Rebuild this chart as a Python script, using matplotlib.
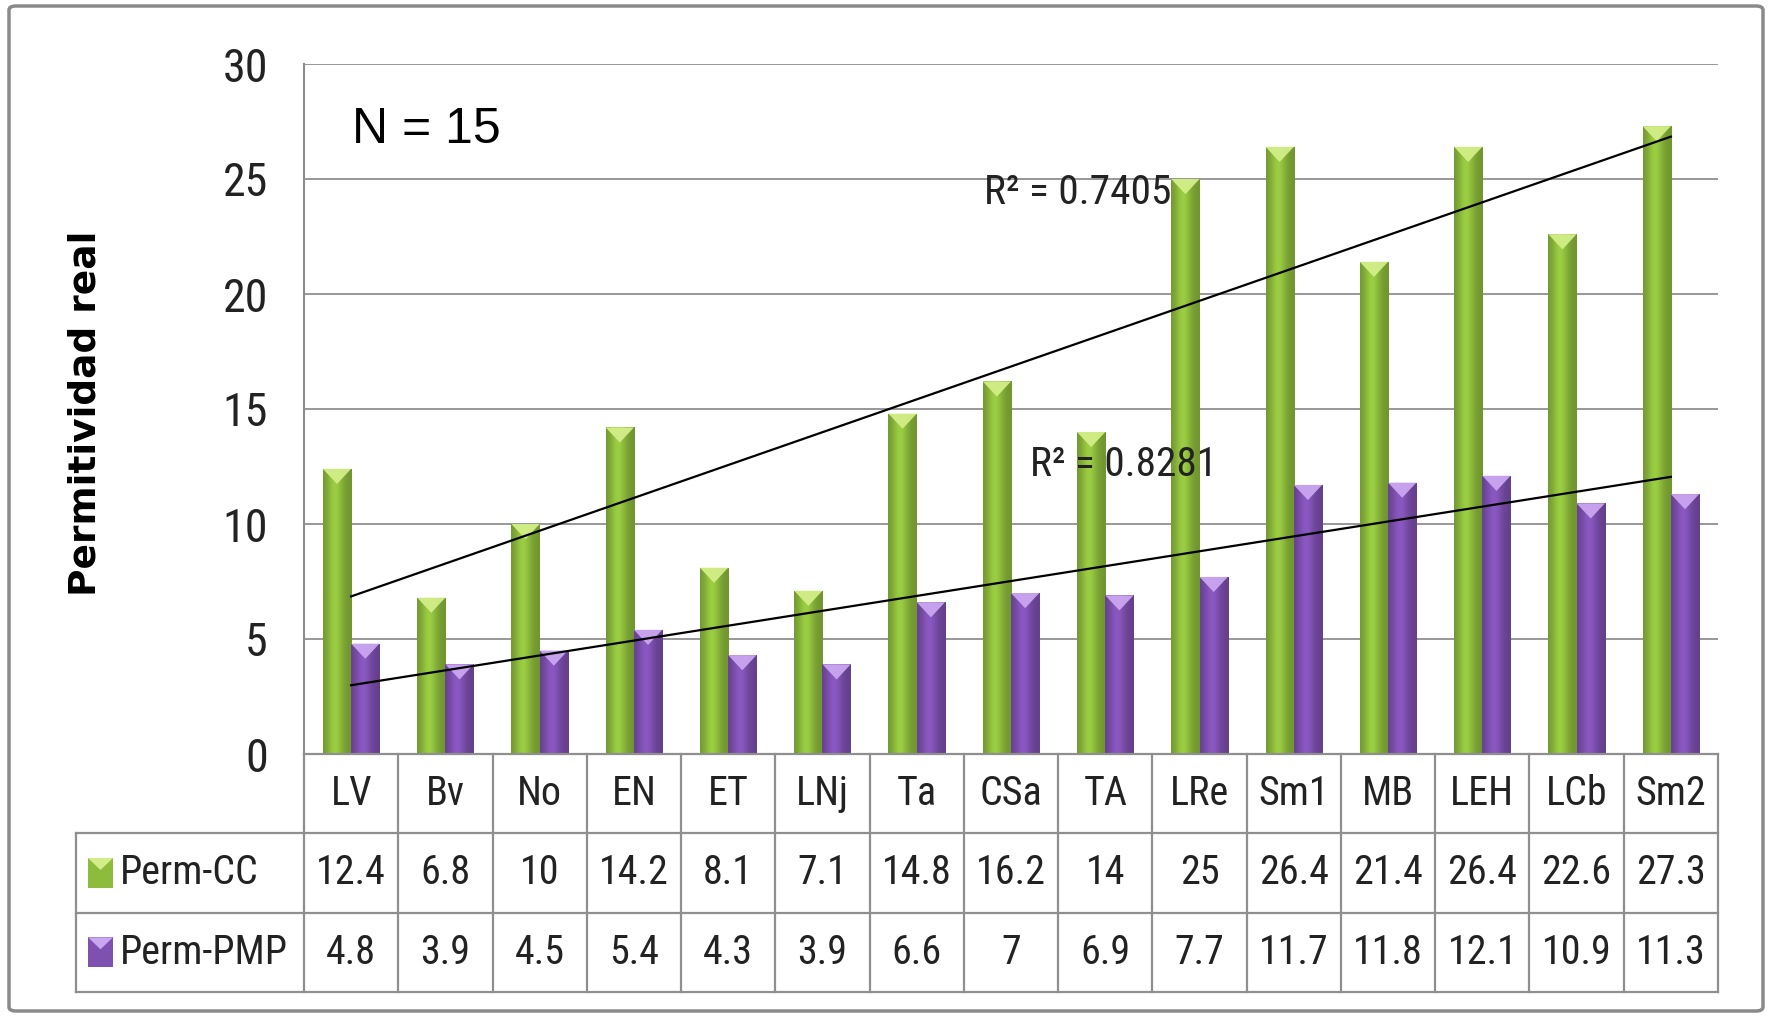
import numpy as np
import matplotlib.pyplot as plt
from matplotlib import font_manager
from matplotlib.font_manager import FontProperties
from matplotlib.patches import Polygon, Rectangle, FancyBboxPatch

categories = ["LV", "Bv", "No", "EN", "ET", "LNj", "Ta", "CSa", "TA", "LRe",
              "Sm1", "MB", "LEH", "LCb", "Sm2"]
perm_cc = [12.4, 6.8, 10, 14.2, 8.1, 7.1, 14.8, 16.2, 14, 25, 26.4, 21.4, 26.4, 22.6, 27.3]
perm_pmp = [4.8, 3.9, 4.5, 5.4, 4.3, 3.9, 6.6, 7, 6.9, 7.7, 11.7, 11.8, 12.1, 10.9, 11.3]
series_names = ["Perm-CC", "Perm-PMP"]
r2_labels = ["R² = 0.7405", "R² = 0.8281"]
y_ticks = [0, 5, 10, 15, 20, 25, 30]


def pick_narrow():
    # prefer a narrow / condensed face, fall back to plain Liberation Sans
    prefs = ["liberationsansnarrow-regular", "robotocondensed-regular",
             "opensans_condensed-regular", "opensanscondensed-regular"]
    files = [f.fname for f in font_manager.fontManager.ttflist]
    for p in prefs:
        for fn in files:
            if p in fn.lower().replace(" ", "").replace("-", "-"):
                return FontProperties(fname=fn)
    for fn in files:
        low = fn.lower()
        if ("narrow" in low or "condensed" in low) and "bold" not in low \
                and "italic" not in low and "light" not in low and "dejavu" not in low:
            return FontProperties(fname=fn)
    return FontProperties(family="Liberation Sans")


NARROW = pick_narrow()

W, H = 1768, 1016
fig = plt.figure(figsize=(W / 100, H / 100), dpi=100)
fig.patch.set_facecolor("white")
renderer = fig.canvas.get_renderer()


def size_for(text, target_px, cap):
    # font size that makes `text` about target_px wide, no larger than cap
    t = fig.text(0, 0, text, fontproperties=NARROW, fontsize=10)
    w = t.get_window_extent(renderer).width
    t.remove()
    return min(cap, 10 * target_px / w)


def fx(px):
    return px / W


def fy(py):
    return 1 - py / H


fs_table = size_for("Perm-PMP", 168, 31)
fs_r2 = size_for(r2_labels[0], 185, 31)
fs_tick = size_for("30", 48, 33)

# outer chart frame
fig.patches.append(FancyBboxPatch((fx(9), fy(1011)), fx(1763) - fx(9), fy(6) - fy(1011),
                                  boxstyle="round,pad=0,rounding_size=0.004",
                                  transform=fig.transFigure, fill=False,
                                  edgecolor="#8a8a8a", linewidth=2.5))

PL, PR, PT, PB = 304, 1718, 64, 754
ax = fig.add_axes([fx(PL), fy(PB), fx(PR) - fx(PL), fy(PT) - fy(PB)])
n = len(categories)
x = np.arange(n)
ax.set_xlim(-0.5, n - 0.5)
ax.set_ylim(0, 30)
ax.set_yticks(y_ticks)
ax.set_xticks([])
ax.tick_params(axis="y", length=0, pad=26)
for lab in ax.get_yticklabels():
    lab.set_fontproperties(NARROW)
    lab.set_fontsize(fs_tick)
    lab.set_color("#222222")
ax.yaxis.grid(True, color="#868686", linewidth=1.2)
ax.set_axisbelow(True)
for s in ["top", "right", "bottom"]:
    ax.spines[s].set_visible(False)
ax.spines["left"].set_color("#8c8c8c")
ax.spines["left"].set_linewidth(1.5)

bw = 0.3
styles = [
    {"base": np.array([141, 187, 60]) / 255, "tip": "#d3ee88"},
    {"base": np.array([126, 80, 176]) / 255, "tip": "#cba6f0"},
]
t = np.linspace(0, 1, 64)
profile = 0.80 + 0.30 * np.exp(-((t - 0.42) / 0.28) ** 2)
tri_h = 0.66


def gradient_img(base):
    img = np.clip(profile[:, None] * base[None, :], 0, 1)
    return img[None, :, :]


for k, (vals, offs) in enumerate([(perm_cc, -bw / 2), (perm_pmp, bw / 2)]):
    st = styles[k]
    bars = ax.bar(x + offs, vals, width=bw, color=st["base"], zorder=2, linewidth=0)
    img = gradient_img(st["base"])
    for b in bars:
        x0, w, h = b.get_x(), b.get_width(), b.get_height()
        im = ax.imshow(img, extent=(x0, x0 + w, 0, h), aspect="auto", zorder=2.1,
                       interpolation="bilinear")
        im.set_clip_path(b)
        ax.add_patch(Polygon([(x0, h), (x0 + w, h), (x0 + w / 2, h - tri_h)],
                             closed=True, facecolor=st["tip"], edgecolor="none",
                             zorder=2.2, alpha=0.95))
ax.set_xlim(-0.5, n - 0.5)
ax.set_ylim(0, 30)

# linear trendlines
for vals in (perm_cc, perm_pmp):
    c = np.polyfit(x, vals, 1)
    ax.plot([x[0], x[-1]], np.polyval(c, [x[0], x[-1]]), color="black", linewidth=1.6, zorder=3)

for lbl, (lx, ly) in zip(r2_labels, [(984, 192), (1030, 465)]):
    ax.text((lx - PL) / (PR - PL), 1 - (ly - PT) / (PB - PT), lbl,
            transform=ax.transAxes, fontproperties=NARROW, fontsize=fs_r2,
            va="center", ha="left", color="#222222", zorder=4)

fig.text(fx(352), fy(130), "N = 15", fontsize=36, fontfamily="Liberation Sans",
         va="center", ha="left")
fig.text(fx(86), fy(413), "Permitividad real", rotation=90, fontsize=27,
         fontweight="bold", fontfamily="DejaVu Sans", va="center", ha="center")

# data table under the plot
TL, TB = 76, 992
cw = (PR - PL) / n
left_units = (PL - TL) / cw
tax = fig.add_axes([fx(TL), fy(TB), fx(PR) - fx(TL), fy(PB) - fy(TB)])
tax.set_xlim(-0.5 - left_units, n - 0.5)
tax.set_ylim(3, 0)
tax.axis("off")
lc, lw = "#8f8f8f", 1.6
tax.plot([-0.5, n - 0.5], [0, 0], color=lc, lw=lw, clip_on=False)
for yy in (1, 2, 3):
    tax.plot([-0.5 - left_units, n - 0.5], [yy, yy], color=lc, lw=lw, clip_on=False)
for i in range(n + 1):
    tax.plot([i - 0.5, i - 0.5], [0, 3], color=lc, lw=lw, clip_on=False)
tax.plot([-0.5 - left_units] * 2, [1, 3], color=lc, lw=lw, clip_on=False)

for i, cat in enumerate(categories):
    tax.text(i, 0.5, cat, ha="center", va="center", fontproperties=NARROW,
             fontsize=fs_table, color="#222222")
for r, vals in enumerate((perm_cc, perm_pmp)):
    for i, v in enumerate(vals):
        tax.text(i, 1.5 + r, f"{v:g}", ha="center", va="center", fontproperties=NARROW,
                 fontsize=fs_table, color="#222222")

# legend keys in the table
ku = 1 / cw
kv = 3 / (TB - PB)
for r, name in enumerate(series_names):
    st = styles[r]
    kx0 = -0.5 - (PL - 88) * ku
    kx1 = -0.5 - (PL - 113) * ku
    kyc = 1.5 + r
    kh = 30 * kv
    key = Rectangle((kx0, kyc - kh / 2), kx1 - kx0, kh, facecolor=st["base"], edgecolor="none")
    tax.add_patch(key)
    im = tax.imshow(gradient_img(st["base"]), extent=(kx0, kx1, kyc + kh / 2, kyc - kh / 2),
                    aspect="auto", interpolation="bilinear")
    im.set_clip_path(key)
    tax.add_patch(Polygon([(kx0, kyc - kh / 2), (kx1, kyc - kh / 2),
                           ((kx0 + kx1) / 2, kyc - kh / 2 + 12 * kv)],
                          facecolor=st["tip"], edgecolor="none"))
    tax.text(-0.5 - (PL - 120) * ku, kyc, name, ha="left", va="center", fontproperties=NARROW,
             fontsize=fs_table, color="#222222")
tax.set_xlim(-0.5 - left_units, n - 0.5)
tax.set_ylim(3, 0)

fig.savefig("out.png", dpi=100)
